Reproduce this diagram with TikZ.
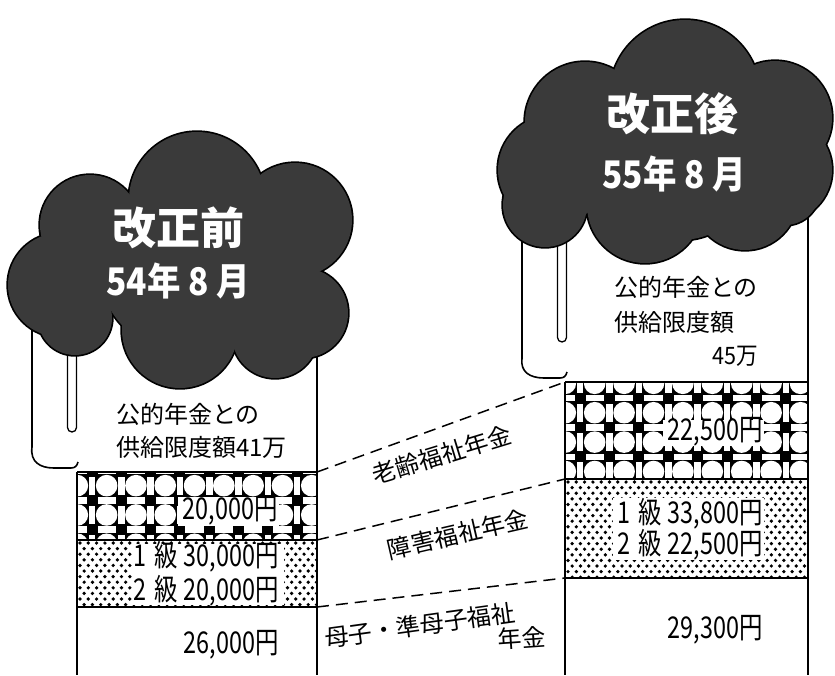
\documentclass[tikz,border=0pt]{standalone}
\usepackage{fontspec}
\usepackage{graphicx}
\setmainfont{Noto Sans CJK JP}
\newcommand\narrowtxt[2]{\scalebox{#1}[1]{#2}}
\definecolor{cloudgray}{HTML}{3A3A3A}
\tikzset{
  edge/.style={line width=1.6pt, black},
  title/.style={text=white, inner sep=0pt, font=\fontsize{44}{48}\selectfont\bfseries},
  subtitle/.style={text=white, inner sep=0pt, font=\fontsize{38}{42}\selectfont\bfseries},
  lbl/.style={inner sep=0pt, font=\fontsize{24}{28}\selectfont},
  num/.style={inner sep=0pt, font=\fontsize{30}{32}\selectfont},
  guide/.style={dash pattern=on 12pt off 7pt, line width=1.5pt},
  gapbox/.style={fill=white},
  drip/.style={fill=white, draw=black, line width=1.3pt, rounded corners=4.5pt},
}
\begin{document}
\begin{tikzpicture}[x=1pt,y=-1pt]
\useasboundingbox (0,0) rectangle (835,675);
\fill[white] (0,0) rectangle (835,675);

% ---------- coordinates ----------
\coordinate (LTL) at (77,472);  \coordinate (LTR) at (317,472);
\coordinate (LML) at (77,540);  \coordinate (LMR) at (317,540);
\coordinate (LBL) at (77,607);  \coordinate (LBR) at (317,607);
\coordinate (LFL) at (77,675);  \coordinate (LFR) at (317,675);
\coordinate (RTL) at (565,382); \coordinate (RTR) at (808,382);
\coordinate (RML) at (565,479); \coordinate (RMR) at (808,479);
\coordinate (RBL) at (565,578); \coordinate (RBR) at (808,578);
\coordinate (RFL) at (565,675); \coordinate (RFR) at (808,675);

% ---------- circle pattern (old-age) ----------
\begin{scope}
\clip (LTL) rectangle (LMR);
\fill[black] (LTL) rectangle (LMR);
\foreach \i in {0,...,9}{\foreach \j in {0,...,3}{
  \fill[white] (62.7+29.3*\i+14.65, 471+29.3*\j+14.65) circle (10.8);
  \fill[white] (62.7+29.3*\i+5.5, 471+29.3*\j-3.3) rectangle (62.7+29.3*\i+23.8, 471+29.3*\j+3.3);
  \fill[white] (62.7+29.3*\i-3.3, 471+29.3*\j+5.5) rectangle (62.7+29.3*\i+3.3, 471+29.3*\j+23.8);
}}
\end{scope}
\begin{scope}
\clip (RTL) rectangle (RMR);
\fill[black] (RTL) rectangle (RMR);
\foreach \i in {0,...,9}{\foreach \j in {0,...,4}{
  \fill[white] (550.6+29.4*\i+14.7, 368.6+29.4*\j+14.7) circle (10.8);
  \fill[white] (550.6+29.4*\i+5.5, 368.6+29.4*\j-3.3) rectangle (550.6+29.4*\i+23.9, 368.6+29.4*\j+3.3);
  \fill[white] (550.6+29.4*\i-3.3, 368.6+29.4*\j+5.5) rectangle (550.6+29.4*\i+3.3, 368.6+29.4*\j+23.9);
}}
\end{scope}

% ---------- dot pattern (disability) ----------
\begin{scope}
\clip (LML) rectangle (LBR);
\foreach \j in {0,...,12}{
  \pgfmathsetmacro\off{mod(\j,2)*4.15}
  \foreach \i in {0,...,29}{\fill (80+\off+8.3*\i, 543+5.6*\j) circle (1.85);}
}
\end{scope}
\begin{scope}
\clip (RML) rectangle (RBR);
\foreach \j in {0,...,18}{
  \pgfmathsetmacro\off{mod(\j,2)*4.15}
  \foreach \i in {0,...,29}{\fill (568+\off+8.3*\i, 482+5.6*\j) circle (1.85);}
}
\end{scope}

% ---------- white gaps behind amounts ----------
\fill[gapbox] (178,497) rectangle (279,526);
\fill[gapbox] (132,544) rectangle (284,605);
\fill[gapbox] (663,420) rectangle (764,446);
\fill[gapbox] (613,498) rectangle (764,560);

% ---------- column lines ----------
\draw[edge] (LTL) -- (LTR);
\draw[edge] (LML) -- (LMR);
\draw[edge] (LBL) -- (LBR);
\draw[edge] (LTL) -- (LFL);
\draw[edge] (RTL) -- (RTR);
\draw[edge] (RML) -- (RMR);
\draw[edge] (RBL) -- (RBR);
\draw[edge] (RTL) -- (RFL);

% ---------- white boxes under the clouds ----------
\draw[edge] (32,300) -- (32,447) .. controls (30,462) and (40,468) .. (54,468) -- (71,468) .. controls (75,468) and (77,466) .. (78,462);
\draw[edge] (317,300) -- (LFR);
\draw[edge] (522,200) -- (522,358) .. controls (520,372) and (530,378) .. (544,378) -- (560,378) .. controls (564,378) and (566,376) .. (567,372);
\draw[edge] (808,200) -- (RFR);

% ---------- drips ----------
\draw[drip] (67.5,320) rectangle (76.5,432);
\draw[drip] (557.5,200) rectangle (566.5,342);

% ---------- left cloud ----------
\foreach \cx/\cy/\r in {197/200/68, 90/225/50, 295/220/57, 60/285/52, 303/313/45, 75/318/37, 180/330/58, 275/335/43, 180/270/80, 255/275/50}
  \draw[line width=3.4pt] (\cx,\cy) circle (\r);
\foreach \cx/\cy/\r in {197/200/68, 90/225/50, 295/220/57, 60/285/52, 303/313/45, 75/318/37, 180/330/58, 275/335/43, 180/270/80, 255/275/50}
  \fill[cloudgray] (\cx,\cy) circle (\r);

% ---------- right cloud ----------
\foreach \cx/\cy/\r in {685/95/75, 585/122/60, 775/118/57, 553/170/55, 780/170/52, 545/205/42, 645/205/58, 745/197/53, 680/160/80, 785/190/35}
  \draw[line width=3.4pt] (\cx,\cy) circle (\r);
\foreach \cx/\cy/\r in {685/95/75, 585/122/60, 775/118/57, 553/170/55, 780/170/52, 545/205/42, 645/205/58, 745/197/53, 680/160/80, 785/190/35}
  \fill[cloudgray] (\cx,\cy) circle (\r);

% ---------- cloud texts ----------
\node[title] (beforeT) at (178,228) {改正前};
\node[subtitle] (beforeD) at (178,281) {\narrowtxt{0.88}{54年 8 月}};
\node[title] (afterT) at (672,114) {改正後};
\node[subtitle] (afterD) at (674,174) {\narrowtxt{0.88}{55年 8 月}};

% ---------- limit texts ----------
\node[lbl, anchor=west] (limL1) at (116,414) {公的年金との};
\node[lbl, anchor=west] (limL2) at (116,447) {供給限度額41万};
\node[lbl, anchor=west] (limR1) at (614,287) {公的年金との};
\node[lbl, anchor=west] (limR2) at (614,322) {供給限度額};
\node[lbl, anchor=east] (limR3) at (758,356) {\narrowtxt{0.9}{45万}};

% ---------- amounts ----------
\node[num, anchor=east] (aL1) at (278,511) {\narrowtxt{0.78}{20,000円}};
\node[num, anchor=east] (aL2) at (279,557) {\narrowtxt{0.78}{1\hspace{0.35em}級\hspace{0.25em}30,000円}};
\node[num, anchor=east] (aL3) at (279,591) {\narrowtxt{0.78}{2\hspace{0.35em}級\hspace{0.25em}20,000円}};
\node[num, anchor=east] (aL4) at (279,645) {\narrowtxt{0.78}{26,000円}};
\node[num, anchor=east] (aR1) at (763,432) {\narrowtxt{0.78}{22,500円}};
\node[num, anchor=east] (aR2) at (763,514) {\narrowtxt{0.78}{1\hspace{0.35em}級\hspace{0.25em}33,800円}};
\node[num, anchor=east] (aR3) at (763,545) {\narrowtxt{0.78}{2\hspace{0.35em}級\hspace{0.25em}22,500円}};
\node[num, anchor=east] (aR4) at (763,630) {\narrowtxt{0.78}{29,300円}};

% ---------- dashed connectors ----------
\draw[guide] (LTR) -- (RTL);
\draw[guide] (LMR) -- (RML);
\draw[guide] (LBR) -- (RBL);

% ---------- category labels ----------
\node[lbl, rotate=17] (old) at (442,455) {老齢福祉年金};
\node[lbl, rotate=13] (dis) at (458,534) {障害福祉年金};
\node[lbl, rotate=8] (mot) at (420,625) {母子・準母子福祉};
\node[lbl, rotate=4] (mot2) at (522,638) {年金};
\end{tikzpicture}
\end{document}
